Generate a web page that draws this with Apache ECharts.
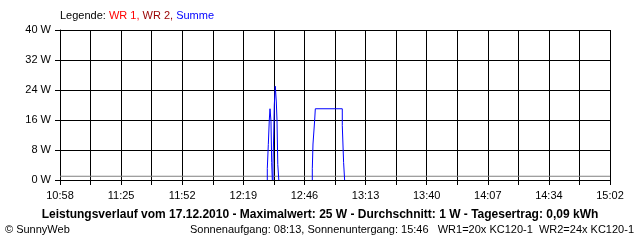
<!DOCTYPE html>
<html><head><meta charset="utf-8">
<script src="https://cdn.jsdelivr.net/npm/echarts@6/dist/echarts.min.js"></script>
<style>html,body{margin:0;padding:0;background:#fff}#c{width:640px;height:240px}</style>
</head><body><div id="c"></div>
<script>
const axisStart = '10:58';
const axisEnd = '15:02';
const tickLabels = ['10:58','11:25','11:52','12:19','12:46','13:13','13:40','14:07','14:34','15:02'];
const gridLinesPerLabel = 2;
const yMax = 40, yStep = 8;
const summeTimes = [
  '12:29:58','12:30:25','12:30:51','12:31:10','12:31:36','12:31:55','12:32:11','12:32:14', null,
  '12:32:30','12:32:48','12:33:04','12:33:31','12:33:58','12:34:16','12:34:37','12:35:04','12:35:07', null,
  '12:49:56','12:50:14','12:50:59','12:51:16','13:03:14','13:03:49','13:04:16','13:04:18'
];
const summeWatts = [
  0, 3.1, 9.5, 16, 19, 15.7, 4.7, 0, null,
  0, 4.3, 12, 20, 25, 20.8, 16, 4.1, 0, null,
  0, 3, 9.6, 16, 19, 14.5, 4.7, 0
];
const averageWatt = 1;

function toMin(s) { const p = s.split(':').map(Number); return p[0] * 60 + p[1] + (p[2] || 0) / 60; }
const t0 = toMin(axisStart);
const span = toMin(axisEnd) - t0;
const nGrid = (tickLabels.length - 1) * gridLinesPerLabel;
const gridVals = [], labelVals = [];
for (let i = 0; i <= nGrid; i++) gridVals.push(span * i / nGrid);
for (let i = 0; i < tickLabels.length; i++) labelVals.push(span * i / (tickLabels.length - 1));
const summeData = summeTimes.map((t, i) => t === null ? [null, null] : [toMin(t) - t0, summeWatts[i]]);

const font = 'Liberation Sans, Arial, sans-serif';
const chart = echarts.init(document.getElementById('c'), null, { renderer: 'canvas' });
chart.setOption({
  animation: false,
  backgroundColor: '#fff',
  textStyle: { fontFamily: font },
  title: [
    { left: 60, top: 10, itemGap: 0, padding: 0,
      text: '{k|Legende: }{a|WR 1, }{b|WR 2, }{c|Summe}',
      textStyle: { fontSize: 11, fontWeight: 'normal', fontFamily: font,
        rich: { k: { color: '#000', fontSize: 11, fontFamily: font },
                a: { color: '#ff0000', fontSize: 11, fontFamily: font },
                b: { color: '#990000', fontSize: 11, fontFamily: font },
                c: { color: '#0000ff', fontSize: 11, fontFamily: font } } } },
    { left: 'center', top: 209, padding: 0,
      text: 'Leistungsverlauf vom 17.12.2010 - Maximalwert: 25 W - Durchschnitt: 1 W - Tagesertrag: 0,09 kWh',
      textStyle: { fontSize: 12, fontWeight: 'bold', color: '#000', fontFamily: font } },
    { left: 5, top: 224, padding: 0, text: '© SunnyWeb',
      textStyle: { fontSize: 11, fontWeight: 'normal', color: '#000', fontFamily: font } },
    { right: 6, top: 224, padding: 0,
      text: 'Sonnenaufgang: 08:13, Sonnenuntergang: 15:46   WR1=20x KC120-1  WR2=24x KC120-1',
      textStyle: { fontSize: 11, fontWeight: 'normal', color: '#000', fontFamily: font } }
  ],
  grid: { left: 60, right: 30, top: 30, bottom: 60, containLabel: false },
  xAxis: {
    type: 'value', min: 0, max: span, z: 3,
    axisLine: { show: true, lineStyle: { color: '#000', width: 1 } },
    axisTick: { show: true, length: 5, customValues: gridVals, lineStyle: { color: '#000' } },
    axisLabel: { customValues: labelVals, margin: 10, color: '#000', fontSize: 11, fontFamily: font,
      formatter: v => tickLabels[Math.round(v / (span / (tickLabels.length - 1)))] },
    splitLine: { show: true, lineStyle: { color: '#000', width: 1 } }
  },
  yAxis: {
    type: 'value', min: 0, max: yMax, interval: yStep, z: 3,
    axisLine: { show: true, lineStyle: { color: '#000', width: 1 } },
    axisTick: { show: true, length: 5, lineStyle: { color: '#000' } },
    axisLabel: { margin: 9, color: '#000', fontSize: 11, fontFamily: font, formatter: '{value} W' },
    splitLine: { show: true, lineStyle: { color: '#000', width: 1 } }
  },
  series: [
    { name: 'Durchschnitt', type: 'line', showSymbol: false, silent: true,
      data: [[0, averageWatt], [span, averageWatt]],
      lineStyle: { color: '#808080', width: 1 } },
    { name: 'Summe', type: 'line', step: 'start', showSymbol: false, connectNulls: false,
      data: summeData, lineStyle: { color: '#0000ff', width: 1 } }
  ]
});
</script></body></html>
